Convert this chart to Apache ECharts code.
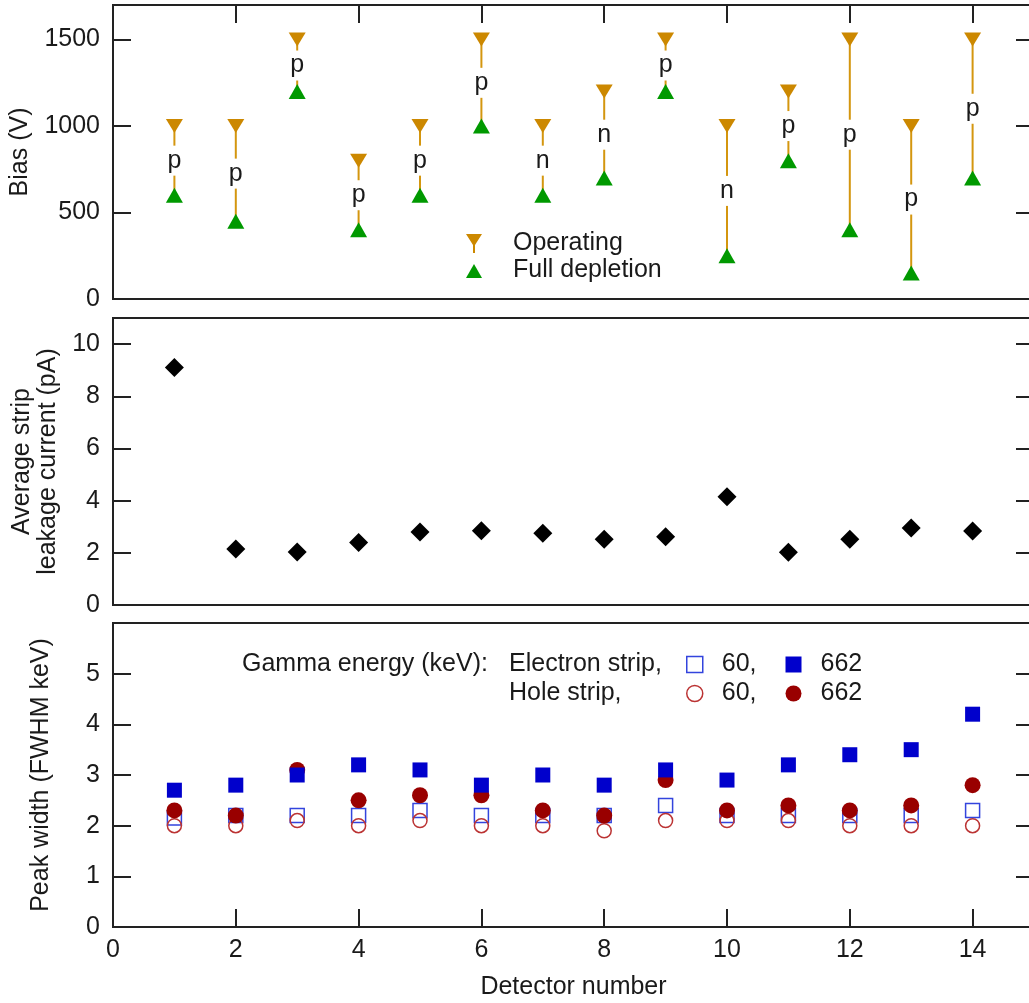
<!DOCTYPE html>
<html><head><meta charset="utf-8">
<script src="https://cdn.jsdelivr.net/npm/echarts@6/dist/echarts.min.js"></script>
<style>html,body{margin:0;padding:0;background:#fff}#c{width:1029px;height:1003px}</style>
</head><body><div id="c"></div>
<script>
// ---- data ----
const detectors = [1,2,3,4,5,6,7,8,9,10,11,12,13,14];
const operatingBias = [1000,1000,1500,800,1000,1500,1000,1200,1500,1000,1200,1500,1000,1500];
const fullDepletionBias = [600,450,1200,400,600,1000,600,700,1200,250,800,400,150,700];
const dopingType = ['p','p','p','p','p','p','n','n','p','n','p','p','p','p'];
const leakageCurrent = [9.1,2.15,2.03,2.4,2.8,2.85,2.75,2.52,2.62,4.15,2.02,2.52,2.95,2.84];
const electron60 = [2.15,2.2,2.2,2.2,2.3,2.2,2.2,2.2,2.4,2.2,2.2,2.2,2.2,2.3];
const electron662 = [2.7,2.8,3.0,3.2,3.1,2.8,3.0,2.8,3.1,2.9,3.2,3.4,3.5,4.2];
const hole60 = [2.0,2.0,2.1,2.0,2.1,2.0,2.0,1.9,2.1,2.1,2.1,2.0,2.0,2.0];
const hole662 = [2.3,2.2,3.1,2.5,2.6,2.6,2.3,2.2,2.9,2.3,2.4,2.3,2.4,2.8];

const FONT = "'Liberation Sans', Arial, sans-serif";
const TXT = '#1a1a1a';
const FS = 25;
const ORANGE = '#CC8800', GREEN = '#009900';
const DOWN_TRI = 'path://M0,0L16,0L8,14Z';

const pairs = (ys) => detectors.map((d, i) => [d, ys[i]]);

const grids = [
  {left:113, right:-5, top:5, height:294},
  {left:113, right:-5, top:318, height:287},
  {left:113, right:-5, top:623, height:304}
].map(g => Object.assign(g, {show:true, borderColor:'#222', borderWidth:2, backgroundColor:'transparent',
  containLabel:false, outerBoundsMode:'none'}));

const tickStyle = {show:true, inside:true, length:18, lineStyle:{color:'#222', width:2}};
const noTick = {show:false};
const fmt = v => String(v);
function xAx(gi, pos, ticks, labels, name) {
  return {type:'value', gridIndex:gi, position:pos, min:0, max:15, interval:2,
    axisLine:{show:false, onZero:false}, splitLine:{show:false},
    axisTick: ticks ? tickStyle : noTick,
    axisLabel: labels ? {show:true, margin:11, fontSize:FS, color:TXT, fontFamily:FONT, showMaxLabel:false, formatter:fmt} : {show:false},
    name: name || '', nameLocation:'middle', nameGap:48,
    nameTextStyle:{fontSize:FS, color:TXT, fontFamily:FONT}};
}
function yAx(gi, pos, max, interval, labels, name, gap) {
  return {type:'value', gridIndex:gi, position:pos, min:0, max:max, interval:interval,
    axisLine:{show:false, onZero:false}, splitLine:{show:false}, axisTick: tickStyle,
    axisLabel: labels ? {show:true, margin:13, fontSize:FS, color:TXT, fontFamily:FONT, showMaxLabel:false, formatter:fmt} : {show:false},
    name: name || '', nameLocation:'middle', nameGap: gap || 0, nameRotate:90,
    nameTextStyle:{fontSize:FS, color:TXT, fontFamily:FONT, lineHeight:26}};
}
const legText = {fontSize:FS, color:TXT, fontFamily:FONT};

const option = {
  backgroundColor:'#fff',
  animation:false,
  grid: grids,
  xAxis: [
    xAx(0,'bottom',false,false),
    xAx(0,'top',true,false),
    xAx(1,'bottom',false,false),
    xAx(2,'bottom',true,true,'Detector number')
  ],
  yAxis: [
    yAx(0,'left',1700,500,true,'Bias (V)',70),
    yAx(0,'right',1700,500,false),
    yAx(1,'left',11,2,true,'Average strip\nleakage current (pA)',50),
    yAx(1,'right',11,2,false),
    yAx(2,'left',6,1,true,'Peak width (FWHM keV)',59),
    yAx(2,'right',6,1,false)
  ],
  legend: [
    {orient:'vertical', left:466, top:230, padding:0, itemWidth:16, itemHeight:19, itemGap:0,
     symbolRotate:0, symbolKeepAspect:false,
     textStyle:Object.assign({lineHeight:22, padding:[5,0,0,26]}, legText),
     data:[
       {name:'Operating', icon:'path://M0,0L16,0L9,11L9,19L7,19L7,11Z', itemStyle:{color:ORANGE, opacity:1}},
       {name:'Full depletion', icon:'path://M0,0M0,17L8,3L16,17ZM16,19', itemStyle:{color:GREEN, opacity:1}}
     ]},
    {orient:'horizontal', left:686, top:652, padding:0, itemWidth:16, itemHeight:16, itemGap:29,
     textStyle:Object.assign({padding:[0,0,0,14]}, legText),
     formatter: n => n.endsWith(' 60') ? '60,' : '662',
     data:[
       {name:'Electron 60', icon:'rect', itemStyle:{color:'transparent', borderColor:'#3344DD', borderWidth:1.5, opacity:1}},
       {name:'Electron 662', icon:'rect', itemStyle:{color:'#0000CC', opacity:1}}
     ]},
    {orient:'horizontal', left:686, top:681, padding:0, itemWidth:16, itemHeight:16, itemGap:29,
     textStyle:Object.assign({padding:[0,0,0,14]}, legText),
     formatter: n => n.endsWith(' 60') ? '60,' : '662',
     data:[
       {name:'Hole 60', icon:'circle', itemStyle:{color:'transparent', borderColor:'#BB3333', borderWidth:1.5, opacity:1}},
       {name:'Hole 662', icon:'circle', itemStyle:{color:'#990000', opacity:1}}
     ]}
  ],
  graphic: [
    {type:'text', left:242, top:652, style:{text:'Gamma energy (keV):', fontSize:FS, fill:TXT, fontFamily:FONT}},
    {type:'text', left:509, top:652, style:{text:'Electron strip,', fontSize:FS, fill:TXT, fontFamily:FONT}},
    {type:'text', left:509, top:681, style:{text:'Hole strip,', fontSize:FS, fill:TXT, fontFamily:FONT}}
  ],
  series: [
    {type:'custom', name:'range', xAxisIndex:0, yAxisIndex:0, z:1,
     data: detectors.map((d,i) => [d, operatingBias[i], fullDepletionBias[i]]),
     encode:{x:0, y:[1,2]},
     renderItem: (params, api) => {
       const x = api.value(0), op = api.value(1), fd = api.value(2);
       const t = dopingType[params.dataIndex];
       const p1 = api.coord([x, op]), p2 = api.coord([x, fd]), pm = api.coord([x, (op+fd)/2]);
       return {type:'group', children:[
         {type:'line', shape:{x1:p1[0], y1:p1[1], x2:p2[0], y2:p2[1]}, style:{stroke:'#D4960F', lineWidth:2}},
         {type:'text', x:pm[0], y:pm[1], style:{text:t, fontSize:FS, fontFamily:FONT, fill:TXT,
           align:'center', verticalAlign:'middle', backgroundColor:'#fff', padding:[1,1], lineHeight:28}}
       ]};
     }},
    {type:'scatter', name:'Operating', xAxisIndex:0, yAxisIndex:0, z:3, symbol:DOWN_TRI,
     symbolSize:[17,14], itemStyle:{color:ORANGE, opacity:1}, data: pairs(operatingBias)},
    {type:'scatter', name:'Full depletion', xAxisIndex:0, yAxisIndex:0, z:3, symbol:'triangle',
     symbolSize:[17,15], itemStyle:{color:GREEN, opacity:1}, data: pairs(fullDepletionBias)},
    {type:'scatter', name:'Leakage', xAxisIndex:2, yAxisIndex:2, symbol:'diamond', symbolSize:19,
     itemStyle:{color:'#000', opacity:1}, data: pairs(leakageCurrent)},
    {type:'scatter', name:'Electron 60', xAxisIndex:3, yAxisIndex:4, symbol:'rect', symbolSize:14, z:2,
     itemStyle:{color:'transparent', borderColor:'#3344DD', borderWidth:1.5, opacity:1}, data: pairs(electron60)},
    {type:'scatter', name:'Hole 60', xAxisIndex:3, yAxisIndex:4, symbol:'circle', symbolSize:14, z:3,
     itemStyle:{color:'transparent', borderColor:'#BB3333', borderWidth:1.5, opacity:1}, data: pairs(hole60)},
    {type:'scatter', name:'Hole 662', xAxisIndex:3, yAxisIndex:4, symbol:'circle', symbolSize:16, z:4,
     itemStyle:{color:'#990000', opacity:1}, data: pairs(hole662)},
    {type:'scatter', name:'Electron 662', xAxisIndex:3, yAxisIndex:4, symbol:'rect', symbolSize:15, z:5,
     itemStyle:{color:'#0000CC', opacity:1}, data: pairs(electron662)}
  ]
};
const chart = echarts.init(document.getElementById('c'), null, {renderer:'canvas'});
chart.setOption(option);
</script>
</body></html>
